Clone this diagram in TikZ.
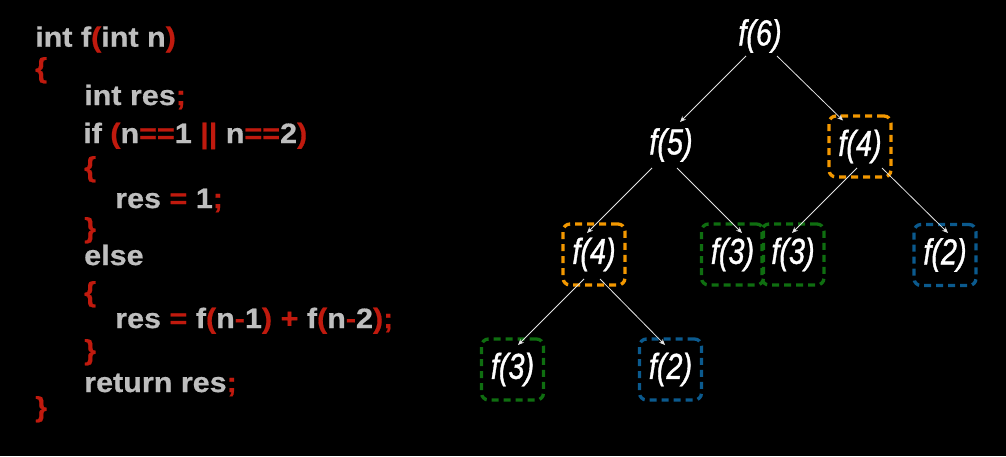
\documentclass[tikz,border=0pt]{standalone}
\usepackage{fontspec}
\setmainfont{Liberation Sans}
\newfontfamily\codefont{Liberation Sans}[BoldFeatures={FakeBold=0.6}]
\newfontfamily\treefont{Liberation Sans}[ItalicFeatures={FakeBold=1.2}]
\usetikzlibrary{arrows.meta,calc}
\definecolor{codegray}{HTML}{BEBEBE}
\definecolor{codered}{HTML}{C01A0E}
\definecolor{boxorange}{HTML}{F39800}
\definecolor{boxgreen}{HTML}{0F6E10}
\definecolor{boxblue}{HTML}{0B5A8E}
\newcommand{\redc}[1]{\textcolor{codered}{#1}}
\tikzset{
  codeline/.style={anchor=base west, inner sep=0pt, text=codegray, xscale=1.09,
    font=\codefont\bfseries\fontsize{28pt}{28pt}\selectfont},
  call/.style={inner sep=0pt, minimum width=62pt, minimum height=61pt, text=white,
    font=\treefont\itshape\fontsize{36pt}{36pt}\selectfont},
  callbox/.style={call, draw=#1, line width=3.3pt, dash pattern=on 7pt off 5pt, rounded corners=7pt},
  edge/.style={draw=white!90!black, line width=0.8pt, -{Stealth[length=6pt,width=5pt]}}
}
\begin{document}
\begin{tikzpicture}[x=1pt,y=-1pt]
\fill[black] (0,0) rectangle (1006,456);
\useasboundingbox (0,0) rectangle (1006,456);
% code
\node[codeline] (c1) at (35,46.7) {int f\redc{(}int n\redc{)}};
\node[codeline] (c2) at (35,77.5) {\redc{\{}};
\node[codeline] (c3) at (84,105) {int res\redc{;}};
\node[codeline] (c4) at (83,143) {if \redc{(}n\redc{==}1 \redc{||} n\redc{==}2\redc{)}};
\node[codeline] (c5) at (84,176.5) {\redc{\{}};
\node[codeline] (c6) at (115,208) {res \redc{=} 1\redc{;}};
\node[codeline] (c7) at (84,237.5) {\redc{\}}};
\node[codeline] (c8) at (84,265) {else};
\node[codeline] (c9) at (84,301.5) {\redc{\{}};
\node[codeline] (c10) at (115,328) {res \redc{=} f\redc{(}n\redc{-}1\redc{)} \redc{+} f\redc{(}n\redc{-}2\redc{);}};
\node[codeline] (c11) at (84,359.5) {\redc{\}}};
\node[codeline] (c12) at (84,392) {return res\redc{;}};
\node[codeline] (c13) at (35,416.5) {\redc{\}}};
% tree
\node[call,xscale=0.8] (f6) at (760,36) {f(6)};
\node[call,xscale=0.8] (f5) at (671,145) {f(5)};
\node[callbox=boxorange] (f4r) at (860,146.5) {\scalebox{0.8}[1]{f(4)}};
\node[callbox=boxorange] (f4l) at (594,254.5) {\scalebox{0.8}[1]{f(4)}};
\node[callbox=boxgreen] (f3a) at (732.5,254.5) {\scalebox{0.8}[1]{f(3)}};
\node[callbox=boxgreen] (f3b) at (793,254.5) {\scalebox{0.8}[1]{f(3)}};
\node[callbox=boxblue] (f2a) at (945,255) {\scalebox{0.8}[1]{f(2)}};
\node[callbox=boxgreen] (f3c) at (512.5,369.5) {\scalebox{0.8}[1]{f(3)}};
\node[callbox=boxblue] (f2b) at (670.5,369.5) {\scalebox{0.8}[1]{f(2)}};
% edges
\draw[edge] ($(f6.center)+(-14,20)$) -- ($(f5.center)+(9,-23)$);
\draw[edge] ($(f6.center)+(17,20)$) -- ($(f4r.center)+(-17,-26)$);
\draw[edge] ($(f5.center)+(-19,23)$) -- ($(f4l.center)+(-7,-21.5)$);
\draw[edge] ($(f5.center)+(6,23)$) -- ($(f3a.center)+(9.5,-21.5)$);
\draw[edge] ($(f4r.center)+(-3,21.5)$) -- ($(f3b.center)+(-1,-21.5)$);
\draw[edge] ($(f4r.center)+(22,21.5)$) -- ($(f2a.center)+(3,-22)$);
\draw[edge] ($(f4l.center)+(-10,24.5)$) -- ($(f3c.center)+(5.5,-24.5)$);
\draw[edge] ($(f4l.center)+(6,24.5)$) -- ($(f2b.center)+(-5.5,-24.5)$);
\end{tikzpicture}
\end{document}
